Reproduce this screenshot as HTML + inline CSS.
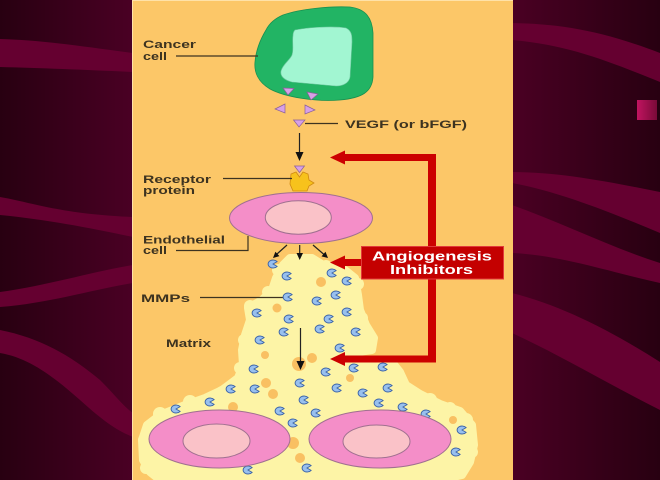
<!DOCTYPE html>
<html><head><meta charset="utf-8"><style>
html,body{margin:0;padding:0;background:#3a001a;}
svg{display:block}
</style></head><body>
<svg width="660" height="480" viewBox="0 0 660 480" xmlns="http://www.w3.org/2000/svg">
<defs>
<linearGradient id="gl" x1="0" x2="1" y1="0" y2="0"><stop offset="0" stop-color="#280011"/><stop offset="1" stop-color="#4a0024"/></linearGradient>
<linearGradient id="gr" x1="0" x2="1" y1="0" y2="0"><stop offset="0" stop-color="#4a0023"/><stop offset="1" stop-color="#280011"/></linearGradient>
<linearGradient id="sq" x1="0" x2="1" y1="0" y2="0"><stop offset="0" stop-color="#c01460"/><stop offset="1" stop-color="#7a0a38"/></linearGradient>
</defs>
<!-- backgrounds -->
<rect x="0" y="0" width="133" height="480" fill="url(#gl)"/>
<rect x="512" y="0" width="148" height="480" fill="url(#gr)"/>
<g fill="#650030">
<path d="M0,39 C40,40 80,46 133,53 L133,72 C90,70 40,68 0,67 Z"/>
<path d="M0,197 C30,202 60,214 133,217 L133,237 C90,228 50,220 0,215 Z"/>
<path d="M0,292 C50,285 90,272 133,265 L133,283 C90,290 50,303 0,307 Z"/>
<path d="M0,330 C40,338 70,355 100,380 C115,395 125,408 133,413 L133,437 C115,430 100,418 80,400 C55,378 30,358 0,353 Z"/>
<path d="M512,23 C560,24 600,30 660,53 L660,82 C610,62 570,45 512,40 Z"/>
<path d="M512,172 C560,172 610,182 660,192 L660,233 C610,212 560,192 512,183 Z"/>
<path d="M512,205 C560,222 610,247 660,263 L660,283 C610,272 560,255 512,253 Z"/>
<path d="M512,293 C560,305 610,330 660,362 L660,410 C610,385 560,355 512,333 Z"/>
</g>
<rect x="637" y="100" width="20" height="20" fill="url(#sq)"/>
<!-- panel -->
<rect x="132" y="0" width="381" height="480" fill="#fcc768"/>
<rect x="132" y="0" width="1" height="480" fill="#ffe2a8"/>
<rect x="132" y="0" width="381" height="1" fill="#ffe2a8"/>

<!-- matrix blob -->
<g fill="#fdf4a6" stroke="#fdf4a6" stroke-width="8" stroke-linejoin="round">
<path d="M290,258 L312,258 L325,266 L345,270 L355,278 L358,295 L360,310 L366,325 L374,338 L372,350 L345,354 L338,362 L362,360 L392,362 L400,372 L406,385 L420,394 L440,404 L460,411 L472,425 L474,445 L470,462 L462,475 L440,480 L160,480 L150,472 L143,460 L142,440 L147,425 L160,415 L185,405 L205,398 L222,390 L238,378 L243,365 L242,350 L245,335 L250,320 L248,308 L262,300 L272,290 L276,278 L283,265 Z"/>
</g>
<g fill="#fdf4a6">
<circle cx="358" cy="284" r="6"/><circle cx="362" cy="318" r="6"/><circle cx="370" cy="340" r="6"/>
<circle cx="250" cy="306" r="6"/><circle cx="244" cy="340" r="6"/><circle cx="240" cy="368" r="6"/>
<circle cx="400" cy="380" r="7"/><circle cx="430" cy="400" r="7"/><circle cx="466" cy="420" r="7"/>
<circle cx="190" cy="402" r="7"/><circle cx="160" cy="414" r="7"/><circle cx="144" cy="440" r="6"/>
<circle cx="278" cy="270" r="6"/><circle cx="326" cy="266" r="6"/><circle cx="268" cy="292" r="6"/>
<circle cx="222" cy="392" r="6"/><circle cx="450" cy="408" r="6"/><circle cx="472" cy="452" r="6"/>
<circle cx="146" cy="468" r="6"/><circle cx="388" cy="364" r="6"/>
</g>
<g fill="#f9c062">
<circle cx="321" cy="282" r="5"/><circle cx="277" cy="308" r="4.5"/>
<circle cx="299" cy="364" r="7"/><circle cx="312" cy="358" r="5"/><circle cx="266" cy="383" r="5"/>
<circle cx="273" cy="394" r="5"/><circle cx="233" cy="407" r="5"/>
<circle cx="293" cy="443" r="6"/><circle cx="300" cy="458" r="5"/><circle cx="453" cy="420" r="4"/>
<circle cx="350" cy="378" r="4"/><circle cx="265" cy="355" r="4"/>
</g>

<!-- cancer cell -->
<path d="M283,15 C300,9 330,6 350,7 C366,9 372,18 373,33 L373,77 C372,92 362,98 340,100 C315,102 285,97 270,89 C258,82 254,72 255,62 C256,50 260,40 266,30 C270,22 276,18 283,15 Z" fill="#22b464" stroke="#189050" stroke-width="0.8"/>
<path d="M295,30 C310,27 335,26 346,28 C352,31 352,36 352,42 L350,77 C349,83 343,86 336,86 L292,82 C284,80 280,76 281,71 C283,64 290,60 292,55 C294,49 292,42 293,36 C293,33 294,31 295,30 Z" fill="#a2f6d2" stroke="#70c8a0" stroke-width="0.6"/>
<g fill="#d7a0e6" stroke="#8a609a" stroke-width="0.7">
<polygon points="283,88 294,88.5 288,95"/>
<polygon points="307,92 318,94 311,100"/>
<polygon points="285,104 285,113 275,109"/>
<polygon points="305,105 305,114 315,110"/>
<polygon points="293.5,120 305,120 299,127"/>
</g>
<line x1="305" y1="123.5" x2="338" y2="123.5" stroke="#3d3320" stroke-width="1.2"/>

<!-- arrow to receptor -->
<line x1="299.5" y1="133" x2="299.5" y2="154" stroke="#222" stroke-width="1.2"/>
<polygon points="295.5,152 303.5,152 299.5,161" fill="#111"/>

<!-- receptor -->
<path d="M291,174 L296,172 L299.5,177 L303,172 L308,174 L309,180 L314,183 L309,186 L307,191 L293,191 L290,184 Z" fill="#f7c21c" stroke="#d08a10" stroke-width="0.8"/>
<polygon points="294.5,166 304.5,166 299.5,172.5" fill="#d7a0e6" stroke="#8a609a" stroke-width="0.7"/>
<line x1="223" y1="178.5" x2="292" y2="178.5" stroke="#3d3320" stroke-width="1.2"/>

<!-- endothelial cell -->
<ellipse cx="301" cy="218" rx="71.5" ry="25.5" fill="#f48ec8" stroke="#a07090" stroke-width="1"/>
<ellipse cx="298.3" cy="217.5" rx="33" ry="16.8" fill="#fac2c8" stroke="#a07090" stroke-width="1"/>
<polyline points="176,250.5 248,250.5 248,236" fill="none" stroke="#3d3320" stroke-width="1.2"/>

<!-- three arrows -->
<g stroke="#222" stroke-width="1.2">
<line x1="299.7" y1="245" x2="299.7" y2="254"/>
<line x1="287" y1="245" x2="277" y2="254"/>
<line x1="313" y1="245" x2="324" y2="254.5"/>
</g>
<g fill="#111">
<polygon points="296.5,253 303,253 299.7,260"/>
<polygon points="279.4,256.1 275.4,251.7 273,258"/>
<polygon points="321.5,256.4 325.5,251.8 328,258"/>
</g>

<!-- matrix arrow -->
<line x1="300.5" y1="328" x2="300.5" y2="362" stroke="#222" stroke-width="1.2"/>
<polygon points="296.5,361 304.5,361 300.5,370" fill="#111"/>
<line x1="200" y1="297.5" x2="283" y2="297.5" stroke="#3d3320" stroke-width="1.2"/>

<!-- pac-man MMPs -->
<g fill="#98c0ee" stroke="#3c64a8" stroke-width="0.9">
<path d="M273,264 l4.1,-2.4 a5,4 0 1 0 0,4.8 z"/>
<path d="M287,276 l4.1,-2.4 a5,4 0 1 0 0,4.8 z"/>
<path d="M332,273 l4.1,-2.4 a5,4 0 1 0 0,4.8 z"/>
<path d="M347,281 l4.1,-2.4 a5,4 0 1 0 0,4.8 z"/>
<path d="M288,297 l4.1,-2.4 a5,4 0 1 0 0,4.8 z"/>
<path d="M317,301 l4.1,-2.4 a5,4 0 1 0 0,4.8 z"/>
<path d="M336,295 l4.1,-2.4 a5,4 0 1 0 0,4.8 z"/>
<path d="M257,313 l4.1,-2.4 a5,4 0 1 0 0,4.8 z"/>
<path d="M289,319 l4.1,-2.4 a5,4 0 1 0 0,4.8 z"/>
<path d="M329,319 l4.1,-2.4 a5,4 0 1 0 0,4.8 z"/>
<path d="M347,312 l4.1,-2.4 a5,4 0 1 0 0,4.8 z"/>
<path d="M284,332 l4.1,-2.4 a5,4 0 1 0 0,4.8 z"/>
<path d="M320,329 l4.1,-2.4 a5,4 0 1 0 0,4.8 z"/>
<path d="M356,332 l4.1,-2.4 a5,4 0 1 0 0,4.8 z"/>
<path d="M260,340 l4.1,-2.4 a5,4 0 1 0 0,4.8 z"/>
<path d="M340,348 l4.1,-2.4 a5,4 0 1 0 0,4.8 z"/>
<path d="M254,369 l4.1,-2.4 a5,4 0 1 0 0,4.8 z"/>
<path d="M326,372 l4.1,-2.4 a5,4 0 1 0 0,4.8 z"/>
<path d="M354,368 l4.1,-2.4 a5,4 0 1 0 0,4.8 z"/>
<path d="M383,367 l4.1,-2.4 a5,4 0 1 0 0,4.8 z"/>
<path d="M255,389 l4.1,-2.4 a5,4 0 1 0 0,4.8 z"/>
<path d="M231,389 l4.1,-2.4 a5,4 0 1 0 0,4.8 z"/>
<path d="M300,383 l4.1,-2.4 a5,4 0 1 0 0,4.8 z"/>
<path d="M337,388 l4.1,-2.4 a5,4 0 1 0 0,4.8 z"/>
<path d="M363,393 l4.1,-2.4 a5,4 0 1 0 0,4.8 z"/>
<path d="M388,388 l4.1,-2.4 a5,4 0 1 0 0,4.8 z"/>
<path d="M210,402 l4.1,-2.4 a5,4 0 1 0 0,4.8 z"/>
<path d="M176,409 l4.1,-2.4 a5,4 0 1 0 0,4.8 z"/>
<path d="M304,400 l4.1,-2.4 a5,4 0 1 0 0,4.8 z"/>
<path d="M379,403 l4.1,-2.4 a5,4 0 1 0 0,4.8 z"/>
<path d="M403,407 l4.1,-2.4 a5,4 0 1 0 0,4.8 z"/>
<path d="M280,411 l4.1,-2.4 a5,4 0 1 0 0,4.8 z"/>
<path d="M316,413 l4.1,-2.4 a5,4 0 1 0 0,4.8 z"/>
<path d="M426,414 l4.1,-2.4 a5,4 0 1 0 0,4.8 z"/>
<path d="M293,423 l4.1,-2.4 a5,4 0 1 0 0,4.8 z"/>
<path d="M462,430 l4.1,-2.4 a5,4 0 1 0 0,4.8 z"/>
<path d="M456,452 l4.1,-2.4 a5,4 0 1 0 0,4.8 z"/>
<path d="M248,470 l4.1,-2.4 a5,4 0 1 0 0,4.8 z"/>
<path d="M307,468 l4.1,-2.4 a5,4 0 1 0 0,4.8 z"/>
</g>

<!-- bottom cells -->
<ellipse cx="219.5" cy="439" rx="70.5" ry="29" fill="#f48ec8" stroke="#a07090" stroke-width="1"/>
<ellipse cx="216.5" cy="441" rx="33.5" ry="17" fill="#fac2c8" stroke="#a07090" stroke-width="1"/>
<ellipse cx="380" cy="439" rx="71" ry="29" fill="#f48ec8" stroke="#a07090" stroke-width="1"/>
<ellipse cx="376.5" cy="441.5" rx="33.5" ry="16.5" fill="#fac2c8" stroke="#a07090" stroke-width="1"/>

<!-- red inhibitor arrows -->
<g fill="#cc0000">
<rect x="343" y="154" width="93" height="7"/>
<polygon points="330,157.5 345,150.5 345,164.5"/>
<rect x="428" y="154" width="8" height="208.5"/>
<rect x="343" y="355.5" width="93" height="7"/>
<polygon points="330,359 345,352 345,366"/>
<rect x="343" y="259" width="20" height="7"/>
<polygon points="330,262.5 345,255.5 345,269.5"/>
</g>
<rect x="361.5" y="246.5" width="142" height="32.5" fill="#c40000" stroke="#e23a3a" stroke-width="1"/>

<!-- labels -->
<g font-family="'Liberation Sans', Arial, sans-serif" font-size="11" font-weight="bold" fill="#3d3320">
<text x="143" y="48" textLength="53" lengthAdjust="spacingAndGlyphs">Cancer</text>
<text x="143" y="60" textLength="24" lengthAdjust="spacingAndGlyphs">cell</text>
<text x="345" y="128" textLength="122" lengthAdjust="spacingAndGlyphs">VEGF (or bFGF)</text>
<text x="143" y="183" textLength="68" lengthAdjust="spacingAndGlyphs">Receptor</text>
<text x="143" y="194" textLength="52" lengthAdjust="spacingAndGlyphs">protein</text>
<text x="143" y="243.5" textLength="82" lengthAdjust="spacingAndGlyphs">Endothelial</text>
<text x="143" y="254" textLength="24" lengthAdjust="spacingAndGlyphs">cell</text>
<text x="141" y="302" textLength="49" lengthAdjust="spacingAndGlyphs">MMPs</text>
<text x="166" y="347" textLength="45" lengthAdjust="spacingAndGlyphs">Matrix</text>
</g>
<line x1="176" y1="56" x2="258" y2="56" stroke="#3d3320" stroke-width="1.2"/>
<g font-family="'Liberation Sans', Arial, sans-serif" font-size="12.5" font-weight="bold" fill="#ffffff">
<text x="372" y="260.5" textLength="120" lengthAdjust="spacingAndGlyphs">Angiogenesis</text>
<text x="390" y="274" textLength="83" lengthAdjust="spacingAndGlyphs">Inhibitors</text>
</g>
</svg>
</body></html>
